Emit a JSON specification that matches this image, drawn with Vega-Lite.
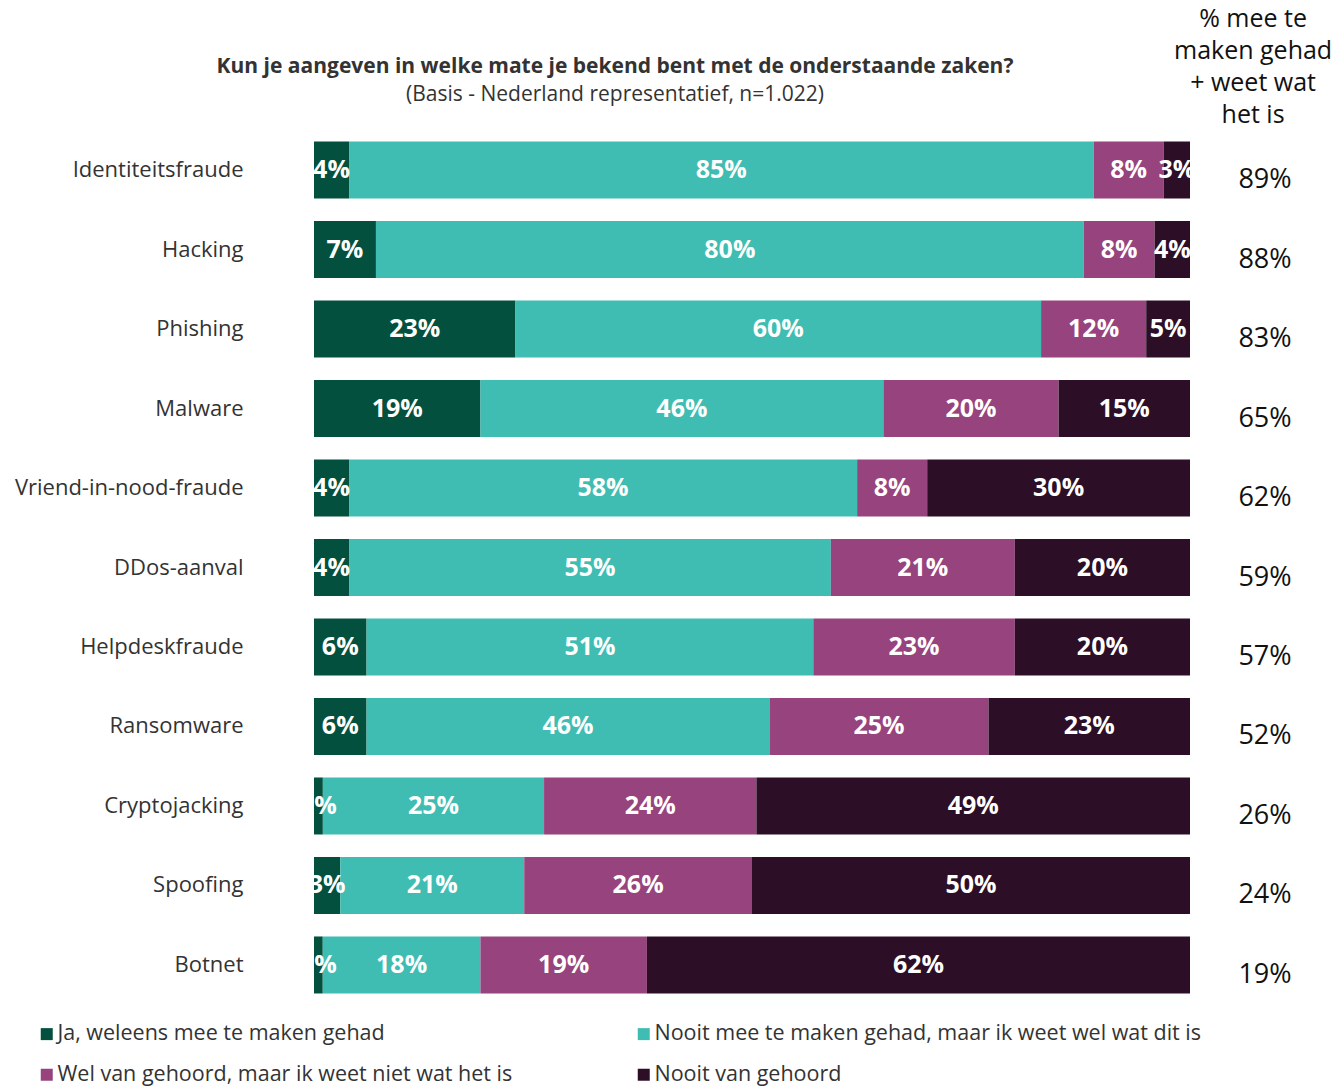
{
  "$schema": "https://vega.github.io/schema/vega-lite/v6.json",
  "width": 876,
  "height": 875,
  "autosize": "none",
  "padding": {"left": 314, "top": 130, "right": 147, "bottom": 81},
  "background": "white",
  "config": {"font": "Open Sans", "view": {"stroke": null}},
  "title": {
    "text": "Kun je aangeven in welke mate je bekend bent met de onderstaande zaken?",
    "subtitle": "(Basis - Nederland representatief,  n=1.022)",
    "anchor": "middle",
    "frame": "group",
    "dx": -137,
    "offset": -98,
    "fontSize": 21,
    "fontWeight": "bold",
    "color": "#333333",
    "subtitleFontSize": 21,
    "subtitleColor": "#333333",
    "subtitlePadding": 7,
    "font": "Open Sans",
    "subtitleFont": "Open Sans"
  },
  "datasets": {
    "bars": [
      {"item": "Identiteitsfraude", "cat": "Ja, weleens mee te maken gehad", "ord": 1, "pct": 0.04},
      {"item": "Identiteitsfraude", "cat": "Nooit mee te maken gehad, maar ik weet wel wat dit is", "ord": 2, "pct": 0.85},
      {"item": "Identiteitsfraude", "cat": "Wel van gehoord, maar ik weet niet wat het is", "ord": 3, "pct": 0.08},
      {"item": "Identiteitsfraude", "cat": "Nooit van gehoord", "ord": 4, "pct": 0.03},
      {"item": "Hacking", "cat": "Ja, weleens mee te maken gehad", "ord": 1, "pct": 0.07},
      {"item": "Hacking", "cat": "Nooit mee te maken gehad, maar ik weet wel wat dit is", "ord": 2, "pct": 0.80},
      {"item": "Hacking", "cat": "Wel van gehoord, maar ik weet niet wat het is", "ord": 3, "pct": 0.08},
      {"item": "Hacking", "cat": "Nooit van gehoord", "ord": 4, "pct": 0.04},
      {"item": "Phishing", "cat": "Ja, weleens mee te maken gehad", "ord": 1, "pct": 0.23},
      {"item": "Phishing", "cat": "Nooit mee te maken gehad, maar ik weet wel wat dit is", "ord": 2, "pct": 0.60},
      {"item": "Phishing", "cat": "Wel van gehoord, maar ik weet niet wat het is", "ord": 3, "pct": 0.12},
      {"item": "Phishing", "cat": "Nooit van gehoord", "ord": 4, "pct": 0.05},
      {"item": "Malware", "cat": "Ja, weleens mee te maken gehad", "ord": 1, "pct": 0.19},
      {"item": "Malware", "cat": "Nooit mee te maken gehad, maar ik weet wel wat dit is", "ord": 2, "pct": 0.46},
      {"item": "Malware", "cat": "Wel van gehoord, maar ik weet niet wat het is", "ord": 3, "pct": 0.20},
      {"item": "Malware", "cat": "Nooit van gehoord", "ord": 4, "pct": 0.15},
      {"item": "Vriend-in-nood-fraude", "cat": "Ja, weleens mee te maken gehad", "ord": 1, "pct": 0.04},
      {"item": "Vriend-in-nood-fraude", "cat": "Nooit mee te maken gehad, maar ik weet wel wat dit is", "ord": 2, "pct": 0.58},
      {"item": "Vriend-in-nood-fraude", "cat": "Wel van gehoord, maar ik weet niet wat het is", "ord": 3, "pct": 0.08},
      {"item": "Vriend-in-nood-fraude", "cat": "Nooit van gehoord", "ord": 4, "pct": 0.30},
      {"item": "DDos-aanval", "cat": "Ja, weleens mee te maken gehad", "ord": 1, "pct": 0.04},
      {"item": "DDos-aanval", "cat": "Nooit mee te maken gehad, maar ik weet wel wat dit is", "ord": 2, "pct": 0.55},
      {"item": "DDos-aanval", "cat": "Wel van gehoord, maar ik weet niet wat het is", "ord": 3, "pct": 0.21},
      {"item": "DDos-aanval", "cat": "Nooit van gehoord", "ord": 4, "pct": 0.20},
      {"item": "Helpdeskfraude", "cat": "Ja, weleens mee te maken gehad", "ord": 1, "pct": 0.06},
      {"item": "Helpdeskfraude", "cat": "Nooit mee te maken gehad, maar ik weet wel wat dit is", "ord": 2, "pct": 0.51},
      {"item": "Helpdeskfraude", "cat": "Wel van gehoord, maar ik weet niet wat het is", "ord": 3, "pct": 0.23},
      {"item": "Helpdeskfraude", "cat": "Nooit van gehoord", "ord": 4, "pct": 0.20},
      {"item": "Ransomware", "cat": "Ja, weleens mee te maken gehad", "ord": 1, "pct": 0.06},
      {"item": "Ransomware", "cat": "Nooit mee te maken gehad, maar ik weet wel wat dit is", "ord": 2, "pct": 0.46},
      {"item": "Ransomware", "cat": "Wel van gehoord, maar ik weet niet wat het is", "ord": 3, "pct": 0.25},
      {"item": "Ransomware", "cat": "Nooit van gehoord", "ord": 4, "pct": 0.23},
      {"item": "Cryptojacking", "cat": "Ja, weleens mee te maken gehad", "ord": 1, "pct": 0.01},
      {"item": "Cryptojacking", "cat": "Nooit mee te maken gehad, maar ik weet wel wat dit is", "ord": 2, "pct": 0.25},
      {"item": "Cryptojacking", "cat": "Wel van gehoord, maar ik weet niet wat het is", "ord": 3, "pct": 0.24},
      {"item": "Cryptojacking", "cat": "Nooit van gehoord", "ord": 4, "pct": 0.49},
      {"item": "Spoofing", "cat": "Ja, weleens mee te maken gehad", "ord": 1, "pct": 0.03},
      {"item": "Spoofing", "cat": "Nooit mee te maken gehad, maar ik weet wel wat dit is", "ord": 2, "pct": 0.21},
      {"item": "Spoofing", "cat": "Wel van gehoord, maar ik weet niet wat het is", "ord": 3, "pct": 0.26},
      {"item": "Spoofing", "cat": "Nooit van gehoord", "ord": 4, "pct": 0.50},
      {"item": "Botnet", "cat": "Ja, weleens mee te maken gehad", "ord": 1, "pct": 0.01},
      {"item": "Botnet", "cat": "Nooit mee te maken gehad, maar ik weet wel wat dit is", "ord": 2, "pct": 0.18},
      {"item": "Botnet", "cat": "Wel van gehoord, maar ik weet niet wat het is", "ord": 3, "pct": 0.19},
      {"item": "Botnet", "cat": "Nooit van gehoord", "ord": 4, "pct": 0.62}
    ],
    "known": [
      {"item": "Identiteitsfraude", "known": 0.89},
      {"item": "Hacking", "known": 0.88},
      {"item": "Phishing", "known": 0.83},
      {"item": "Malware", "known": 0.65},
      {"item": "Vriend-in-nood-fraude", "known": 0.62},
      {"item": "DDos-aanval", "known": 0.59},
      {"item": "Helpdeskfraude", "known": 0.57},
      {"item": "Ransomware", "known": 0.52},
      {"item": "Cryptojacking", "known": 0.26},
      {"item": "Spoofing", "known": 0.24},
      {"item": "Botnet", "known": 0.19}
    ]
  },
  "layer": [
    {
      "data": {"name": "bars"},
      "transform": [
        {"stack": "pct", "groupby": ["item"], "sort": [{"field": "ord"}], "offset": "normalize", "as": ["x0", "x1"]}
      ],
      "mark": {"type": "bar"},
      "encoding": {
        "y": {
          "field": "item", "type": "nominal",
          "sort": ["Identiteitsfraude", "Hacking", "Phishing", "Malware", "Vriend-in-nood-fraude", "DDos-aanval", "Helpdeskfraude", "Ransomware", "Cryptojacking", "Spoofing", "Botnet"],
          "scale": {"paddingInner": 0.283, "paddingOuter": 0.145},
          "axis": {"title": null, "domain": false, "ticks": false, "labelFontSize": 22, "labelColor": "#333333", "labelPadding": 71, "labelFont": "Open Sans", "labelLimit": 400}
        },
        "x": {"field": "x0", "type": "quantitative", "scale": {"domain": [0, 1], "nice": false, "zero": false}, "axis": null},
        "x2": {"field": "x1"},
        "color": {
          "field": "cat", "type": "nominal",
          "scale": {
            "domain": ["Ja, weleens mee te maken gehad", "Nooit mee te maken gehad, maar ik weet wel wat dit is", "Wel van gehoord, maar ik weet niet wat het is", "Nooit van gehoord"],
            "range": ["#03503F", "#3FBDB2", "#97437D", "#2C0F27"]
          },
          "legend": {
            "title": null, "orient": "none", "legendX": -278, "legendY": 893, "padding": 0,
            "columns": 2, "direction": "horizontal",
            "symbolType": "square", "symbolSize": 144, "symbolStrokeWidth": 0,
            "labelFontSize": 21.5, "labelColor": "#333333", "labelFont": "Open Sans", "labelLimit": 700,
            "labelOffset": 0, "rowPadding": 18, "columnPadding": 120
          }
        }
      }
    },
    {
      "data": {"name": "bars"},
      "transform": [
        {"stack": "pct", "groupby": ["item"], "sort": [{"field": "ord"}], "offset": "normalize", "as": ["x0", "x1"]},
        {"calculate": "(datum.x0 + datum.x1) / 2", "as": "xmid"}
      ],
      "mark": {"type": "text", "color": "white", "fontWeight": "bold", "fontSize": 25, "font": "Open Sans", "clip": true, "align": "center", "baseline": "middle"},
      "encoding": {
        "y": {"field": "item", "type": "nominal", "sort": ["Identiteitsfraude", "Hacking", "Phishing", "Malware", "Vriend-in-nood-fraude", "DDos-aanval", "Helpdeskfraude", "Ransomware", "Cryptojacking", "Spoofing", "Botnet"]},
        "x": {"field": "xmid", "type": "quantitative"},
        "text": {"field": "pct", "type": "quantitative", "format": ".0%"}
      }
    },
    {
      "data": {"name": "known"},
      "mark": {"type": "text", "color": "#111111", "fontSize": 27, "font": "Open Sans", "align": "center", "baseline": "middle", "dy": 10},
      "encoding": {
        "y": {"field": "item", "type": "nominal", "sort": ["Identiteitsfraude", "Hacking", "Phishing", "Malware", "Vriend-in-nood-fraude", "DDos-aanval", "Helpdeskfraude", "Ransomware", "Cryptojacking", "Spoofing", "Botnet"]},
        "x": {"datum": 1.0856, "type": "quantitative"},
        "text": {"field": "known", "type": "quantitative", "format": ".0%"}
      }
    },
    {
      "data": {"values": [{"item": "Identiteitsfraude"}]},
      "mark": {"type": "text", "color": "#111111", "fontSize": 25, "font": "Open Sans", "align": "center", "baseline": "middle", "lineHeight": 32, "dy": -151},
      "encoding": {
        "y": {"field": "item", "type": "nominal", "sort": ["Identiteitsfraude", "Hacking", "Phishing", "Malware", "Vriend-in-nood-fraude", "DDos-aanval", "Helpdeskfraude", "Ransomware", "Cryptojacking", "Spoofing", "Botnet"]},
        "x": {"datum": 1.072, "type": "quantitative"},
        "text": {"value": ["% mee te", "maken gehad", "+ weet wat", "het is"]}
      }
    }
  ]
}
